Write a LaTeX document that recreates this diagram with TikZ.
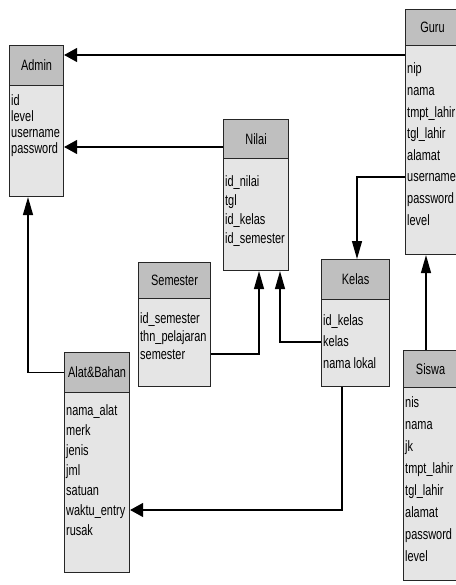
\documentclass[tikz,border=0pt]{standalone}
\usepackage{fontspec}
\setmainfont{Liberation Sans}[FakeStretch=0.73]
\usetikzlibrary{arrows.meta}

\tikzset{
    head/.style={draw=black!85, fill=black!25, line width=1.1pt, anchor=north west, inner sep=0pt, font=\fontsize{15}{17}\selectfont},
    body/.style={draw=black!85, fill=black!10, line width=1.1pt, anchor=north west, inner sep=0pt},
    item/.style={anchor=base west, inner sep=0pt, font=\fontsize{15}{17}\selectfont},
    hlink/.style={line width=1.3pt, -{Triangle[length=13pt, width=14pt]}},
    vlink/.style={line width=1.3pt, -{Triangle[length=18pt, width=10pt]}}
}

\begin{document}
\begin{tikzpicture}[x=1pt, y=-1pt]
        \useasboundingbox (0, 0) rectangle (455, 585);

        % Tables
        %% Admin
        \node[head, minimum width=54, minimum height=40] (admin) at (9, 45) {Admin};
        \node[body, minimum width=54, minimum height=111] (admin-b) at (9, 85) {};
        \foreach \t [count=\i] in {id, level, username, password} {
            \node[item] (admin-\i) at (11, 90+16*\i) {\t};
        }

        %% Guru
        \node[head, minimum width=54, minimum height=36] (guru) at (405, 9) {Guru};
        \node[body, minimum width=54, minimum height=209] (guru-b) at (405, 45) {};
        \foreach \t [count=\i] in {nip, nama, tmpt\_lahir, tgl\_lahir, alamat, username, password, level} {
            \node[item] (guru-\i) at (407, 52.4+21.6*\i) {\t};
        }

        %% Nilai
        \node[head, minimum width=65, minimum height=39] (nilai) at (223, 119) {Nilai};
        \node[body, minimum width=65, minimum height=112] (nilai-b) at (223, 158) {};
        \foreach \t [count=\i] in {id\_nilai, tgl, id\_kelas, id\_semester} {
            \node[item] (nilai-\i) at (225, 166.7+19.3*\i) {\t};
        }

        %% Semester
        \node[head, minimum width=72, minimum height=36] (semester) at (138, 262) {Semester};
        \node[body, minimum width=72, minimum height=88] (semester-b) at (138, 298) {};
        \foreach \t [count=\i] in {id\_semester, thn\_pelajaran, semester} {
            \node[item] (semester-\i) at (140, 305+18*\i) {\t};
        }

        %% Kelas
        \node[head, minimum width=68, minimum height=40] (kelas) at (321, 259) {Kelas};
        \node[body, minimum width=68, minimum height=87] (kelas-b) at (321, 299) {};
        \foreach \t [count=\i] in {id\_kelas, kelas, nama lokal} {
            \node[item] (kelas-\i) at (323, 303.5+21.5*\i) {\t};
        }

        %% Alat&Bahan
        \node[head, minimum width=65, minimum height=40] (alat) at (64, 352) {Alat\&Bahan};
        \node[body, minimum width=65, minimum height=180] (alat-b) at (64, 392) {};
        \foreach \t [count=\i] in {nama\_alat, merk, jenis, jml, satuan, waktu\_entry, rusak} {
            \node[item] (alat-\i) at (66, 395+20*\i) {\t};
        }

        %% Siswa
        \node[head, minimum width=54, minimum height=37] (siswa) at (403, 350) {Siswa};
        \node[body, minimum width=54, minimum height=193] (siswa-b) at (403, 387) {};
        \foreach \t [count=\i] in {nis, nama, jk, tmpt\_lahir, tgl\_lahir, alamat, password, level} {
            \node[item] (siswa-\i) at (405, 385+22*\i) {\t};
        }

        % Relations
        %% -
        \draw[hlink] (guru-b.west |- 0, 55) -- (admin.east |- 0, 55);
        \draw[hlink] (nilai.west |- 0, 147) -- (admin-b.east |- 0, 147);
        \draw[hlink] (kelas-b.south -| 342, 0) |- (alat-b.east |- 0, 510);
        %% |
        \draw[vlink] (guru-b.west |- 0, 177) -| (kelas.north -| 357, 0);
        \draw[vlink] (siswa.north -| 426, 0) -- (guru-b.south -| 426, 0);
        \draw[vlink] (semester-b.east |- 0, 354) -| (nilai-b.south -| 259, 0);
        \draw[vlink] (kelas-b.west |- 0, 342) -| (nilai-b.south -| 280, 0);
        \draw[vlink] (alat.west) -| (admin-b.south -| 28, 0);

    \end{tikzpicture}
\end{document}
